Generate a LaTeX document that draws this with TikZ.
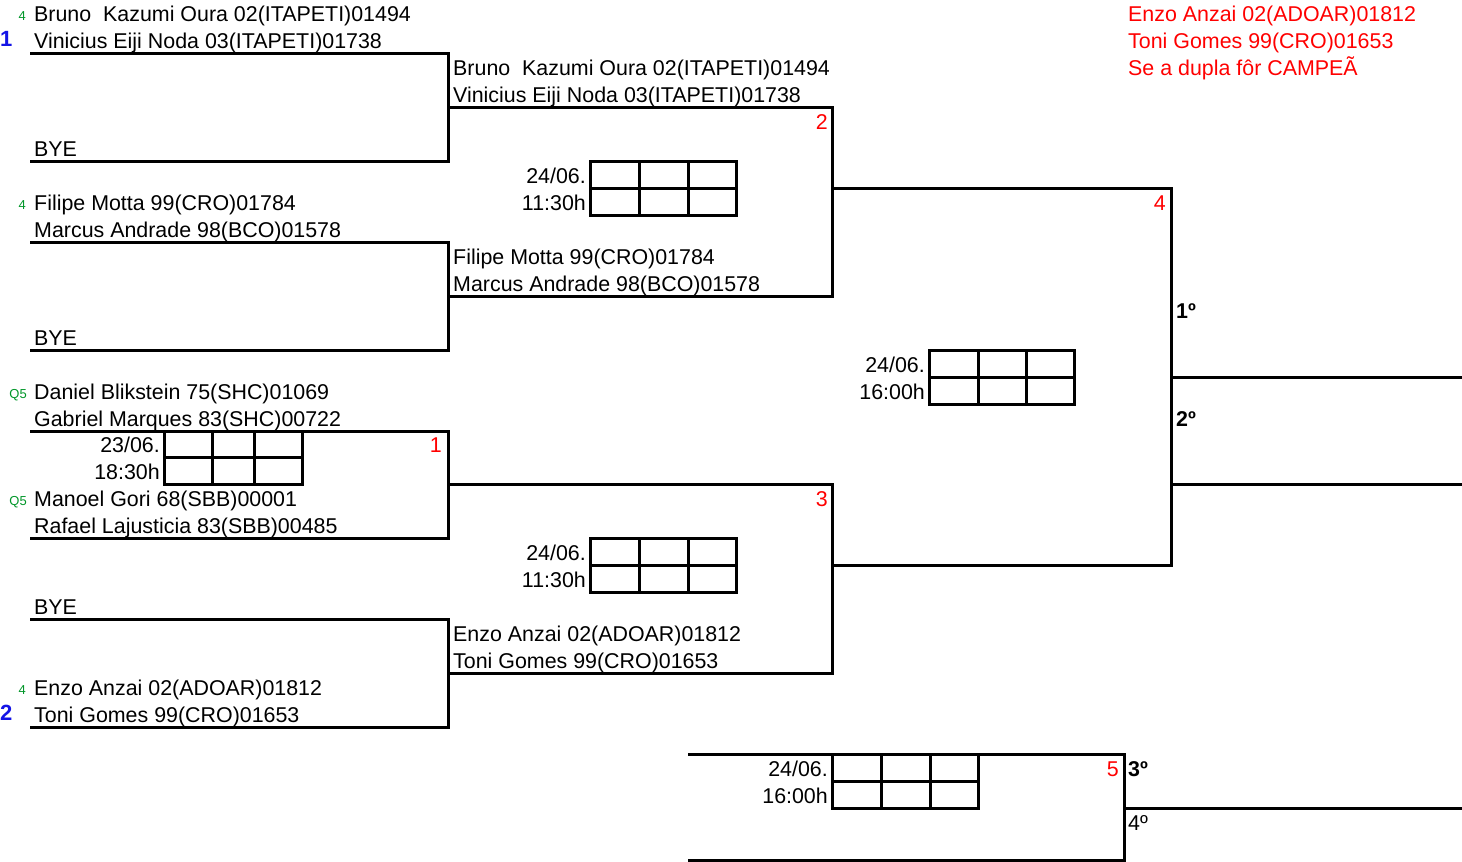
\documentclass[tikz,border=0pt]{standalone}
\usepackage{fontspec}
\setmainfont{Liberation Sans}
\definecolor{grn}{RGB}{0,150,40}
\definecolor{blu}{RGB}{20,20,230}
\definecolor{rd}{RGB}{255,0,0}
\begin{document}
\begin{tikzpicture}[x=1pt,y=-1pt,
  ln/.style={line width=3pt},
  bx/.style={line width=3pt},
  lt/.style={anchor=base west,inner sep=0pt,font=\fontsize{21.4}{24}\selectfont},
  rt/.style={anchor=base east,inner sep=0pt,font=\fontsize{21.4}{24}\selectfont},
  sm/.style={anchor=base east,inner sep=0pt,text=grn,font=\fontsize{13}{14}\selectfont},
  seed/.style={anchor=base west,inner sep=0pt,text=blu,font=\fontsize{22}{24}\selectfont\bfseries},
  mn/.style={anchor=base east,inner sep=0pt,text=rd,font=\fontsize{21.4}{24}\selectfont},
  pl/.style={anchor=base west,inner sep=0pt,font=\fontsize{21.4}{24}\selectfont\bfseries},
  rdt/.style={anchor=base west,inner sep=0pt,text=rd,font=\fontsize{21.4}{24}\selectfont}]
\def\R{26.94}
\def\B{5}
\useasboundingbox (0,0) rectangle (1462,862);
% ---------- bracket lines ----------
\draw[ln] (30,{2*\R}) -- (448,{2*\R}) -- (448,{6*\R}) -- (30,{6*\R});
\draw[ln] (30,{9*\R}) -- (448,{9*\R}) -- (448,{13*\R}) -- (30,{13*\R});
\draw[ln] (30,{16*\R}) -- (448,{16*\R}) -- (448,{20*\R}) -- (30,{20*\R});
\draw[ln] (30,{23*\R}) -- (448,{23*\R}) -- (448,{27*\R}) -- (30,{27*\R});
\draw[ln] (448,{4*\R}) -- (832,{4*\R}) -- (832,{11*\R}) -- (448,{11*\R});
\draw[ln] (448,{18*\R}) -- (832,{18*\R}) -- (832,{25*\R}) -- (448,{25*\R});
\draw[ln] (832,{7*\R}) -- (1171,{7*\R}) -- (1171,{21*\R}) -- (832,{21*\R});
\draw[ln] (1171,{14*\R}) -- (1462,{14*\R});
\draw[ln] (1171,{18*\R}) -- (1462,{18*\R});
\draw[ln] (688,{28*\R}) -- (1124,{28*\R}) -- (1124,{32*\R-1.5}) -- (688,{32*\R-1.5});
\draw[ln] (1124,{30*\R}) -- (1462,{30*\R});
% ---------- score boxes ----------
\foreach \xa/\xb/\xc/\xd/\k in {590/639/688/736/6, 590/639/688/736/20, 929/978/1026/1074/13, 832/881/930/978/28}{
  \draw[bx] (\xa,{\k*\R}) rectangle (\xd,{(\k+2)*\R});
  \draw[bx] (\xa,{(\k+1)*\R}) -- (\xd,{(\k+1)*\R});
  \draw[bx] (\xb,{\k*\R}) -- (\xb,{(\k+2)*\R});
  \draw[bx] (\xc,{\k*\R}) -- (\xc,{(\k+2)*\R});
}
\draw[bx] (164,{16*\R}) rectangle (302,{18*\R});
\draw[bx] (164,{17*\R}) -- (302,{17*\R});
\draw[bx] (212,{16*\R}) -- (212,{18*\R});
\draw[bx] (254,{16*\R}) -- (254,{18*\R});
% ---------- first round ----------
\node[sm] (s1) at (26,{1*\R-\B-1}) {4};
\node[lt] (a1) at (34,{1*\R-\B}) {Bruno\ \ Kazumi Oura 02(ITAPETI)01494};
\node[seed] (b1) at (0,{2*\R-\B-2}) {1};
\node[lt] (a2) at (34,{2*\R-\B}) {Vinicius Eiji Noda 03(ITAPETI)01738};
\node[lt] (a3) at (34,{6*\R-\B}) {BYE};
\node[sm] (s2) at (26,{8*\R-\B-1}) {4};
\node[lt] (a4) at (34,{8*\R-\B}) {Filipe Motta 99(CRO)01784};
\node[lt] (a5) at (34,{9*\R-\B}) {Marcus Andrade 98(BCO)01578};
\node[lt] (a6) at (34,{13*\R-\B}) {BYE};
\node[sm] (s3) at (27,{15*\R-\B-1}) {Q5};
\node[lt] (a7) at (34,{15*\R-\B}) {Daniel Blikstein 75(SHC)01069};
\node[lt] (a8) at (34,{16*\R-\B}) {Gabriel Marques 83(SHC)00722};
\node[rt] (d1) at (160,{17*\R-\B}) {23/06.};
\node[rt] (h1) at (160,{18*\R-\B}) {18:30h};
\node[sm] (s4) at (27,{19*\R-\B-1}) {Q5};
\node[lt] (a9) at (34,{19*\R-\B}) {Manoel Gori 68(SBB)00001};
\node[lt] (a10) at (34,{20*\R-\B}) {Rafael Lajusticia 83(SBB)00485};
\node[lt] (a11) at (34,{23*\R-\B}) {BYE};
\node[sm] (s5) at (26,{26*\R-\B-1}) {4};
\node[lt] (a12) at (34,{26*\R-\B}) {Enzo Anzai 02(ADOAR)01812};
\node[seed] (b2) at (0,{27*\R-\B-2}) {2};
\node[lt] (a13) at (34,{27*\R-\B}) {Toni Gomes 99(CRO)01653};
\node[mn] (m1) at (442,{17*\R-\B}) {1};
% ---------- second round ----------
\node[lt] (c1) at (453,{3*\R-\B}) {Bruno\ \ Kazumi Oura 02(ITAPETI)01494};
\node[lt] (c2) at (453,{4*\R-\B}) {Vinicius Eiji Noda 03(ITAPETI)01738};
\node[mn] (m2) at (828,{5*\R-\B}) {2};
\node[rt] (d2) at (586,{7*\R-\B}) {24/06.};
\node[rt] (h2) at (586,{8*\R-\B}) {11:30h};
\node[lt] (c3) at (453,{10*\R-\B}) {Filipe Motta 99(CRO)01784};
\node[lt] (c4) at (453,{11*\R-\B}) {Marcus Andrade 98(BCO)01578};
\node[mn] (m3) at (828,{19*\R-\B}) {3};
\node[rt] (d3) at (586,{21*\R-\B}) {24/06.};
\node[rt] (h3) at (586,{22*\R-\B}) {11:30h};
\node[lt] (c5) at (453,{24*\R-\B}) {Enzo Anzai 02(ADOAR)01812};
\node[lt] (c6) at (453,{25*\R-\B}) {Toni Gomes 99(CRO)01653};
% ---------- final ----------
\node[mn] (m4) at (1166,{8*\R-\B}) {4};
\node[pl] (p1) at (1176,{12*\R-\B}) {1º};
\node[rt] (d4) at (925,{14*\R-\B}) {24/06.};
\node[rt] (h4) at (925,{15*\R-\B}) {16:00h};
\node[pl] (p2) at (1176,{16*\R-\B}) {2º};
% ---------- third place ----------
\node[rt] (d5) at (828,{29*\R-\B}) {24/06.};
\node[rt] (h5) at (828,{30*\R-\B}) {16:00h};
\node[mn] (m5) at (1119,{29*\R-\B}) {5};
\node[pl] (p3) at (1128,{29*\R-\B}) {3º};
\node[lt] (p4) at (1128,{31*\R-\B}) {4º};
% ---------- note ----------
\node[rdt] (n1) at (1128,{1*\R-\B}) {Enzo Anzai 02(ADOAR)01812};
\node[rdt] (n2) at (1128,{2*\R-\B}) {Toni Gomes 99(CRO)01653};
\node[rdt] (n3) at (1128,{3*\R-\B}) {Se a dupla fôr CAMPEÃ};
\end{tikzpicture}
\end{document}
